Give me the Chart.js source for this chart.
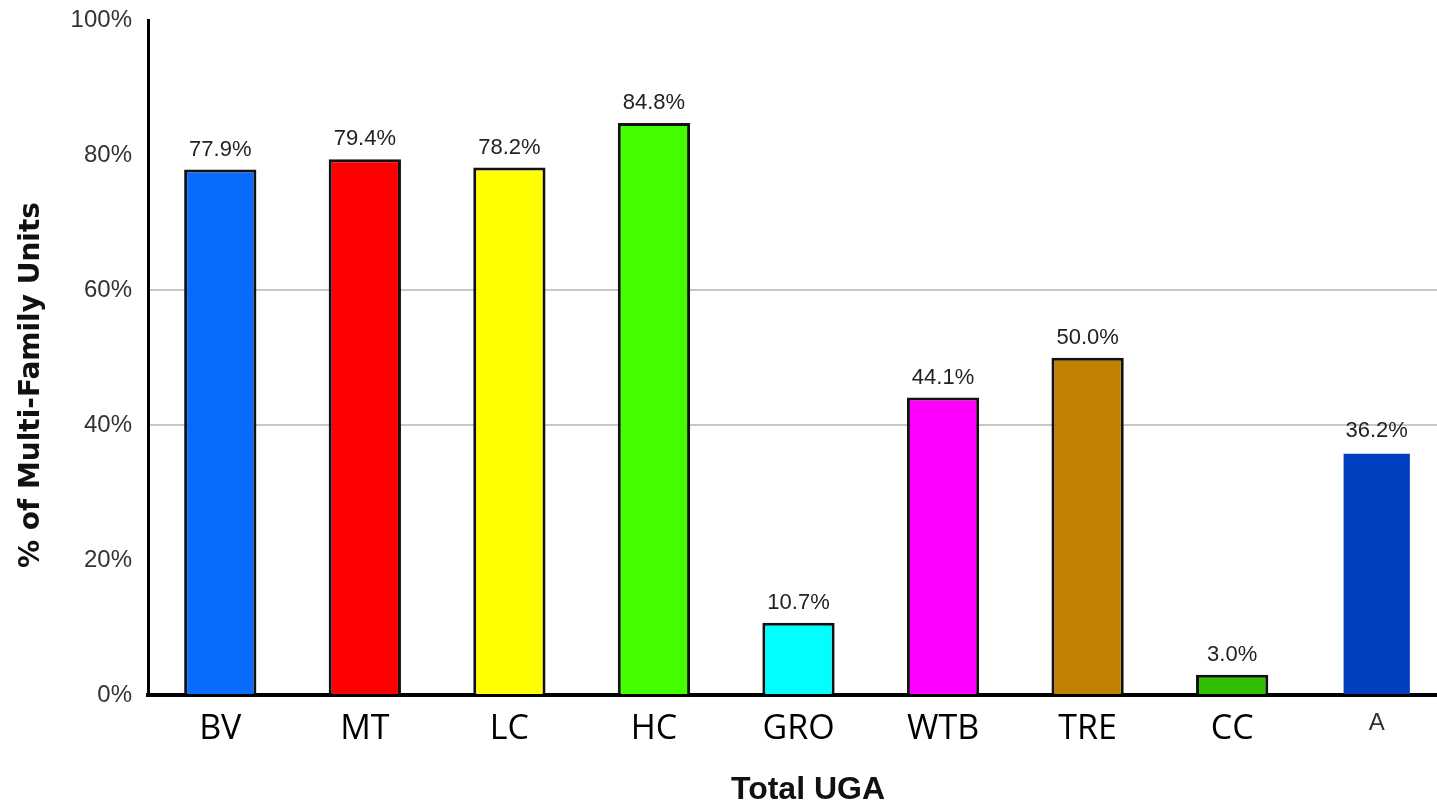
<!DOCTYPE html>
<html>
<head>
<meta charset="utf-8">
<script src="https://cdn.jsdelivr.net/npm/chart.js@4"></script>
<style>
  html, body { margin: 0; padding: 0; background: #fff; overflow: hidden; }
  #wrap { position: relative; width: 1437px; height: 809px; overflow: hidden; }
  #box { position: absolute; left: 0; top: -10px; width: 1452px; height: 819px; }
</style>
</head>
<body>
<div id="wrap"><div id="box"><canvas id="c"></canvas></div></div>
<script>
// Share of multi-family housing units by urban growth area
const categories = ['BV', 'MT', 'LC', 'HC', 'GRO', 'WTB', 'TRE', 'CC', 'A'];
const percentValues = [77.9, 79.4, 78.2, 84.8, 10.7, 44.1, 50.0, 3.0, 36.2];
const barColors = ['#0a6cff', '#ff0000', '#ffff00', '#44ff00', '#00ffff', '#ff00ff', '#c08000', '#30c000', '#0040c0'];
const barBorders = ['#111', '#111', '#111', '#111', '#111', '#111', '#111', '#111', 'rgba(0,0,0,0)'];
const yTicks = [0, 20, 40, 60, 80, 100];
const gridShown = [40, 60];
const yTitle = '% of Multi-Family Units';
const xTitle = 'Total UGA';

// value labels above each bar and the two axis titles
const labelPlugin = {
  id: 'labels',
  afterDatasetsDraw(chart) {
    const ctx = chart.ctx;
    const meta = chart.getDatasetMeta(0);
    ctx.save();
    ctx.font = '22px "Liberation Sans"';
    ctx.fillStyle = '#222';
    ctx.textAlign = 'center';
    ctx.textBaseline = 'middle';
    meta.data.forEach((bar, i) => {
      ctx.fillText(percentValues[i].toFixed(1) + '%', bar.x, bar.y - 20);
    });
    ctx.restore();
  },
  afterDraw(chart) {
    const ctx = chart.ctx;
    const area = chart.chartArea;
    ctx.save();
    ctx.fillStyle = '#111';
    ctx.textAlign = 'center';
    ctx.textBaseline = 'middle';
    ctx.font = 'bold 28px "DejaVu Sans"';
    ctx.translate(32, area.bottom - 310);
    ctx.rotate(-Math.PI / 2);
    ctx.fillText(yTitle, 0, 0);
    ctx.restore();
    ctx.save();
    ctx.fillStyle = '#111';
    ctx.textAlign = 'center';
    ctx.textBaseline = 'middle';
    ctx.font = 'bold 32px "Liberation Sans"';
    ctx.fillText(xTitle, 808, area.bottom + 95);
    ctx.restore();
  }
};

new Chart(document.getElementById('c'), {
  type: 'bar',
  data: {
    labels: categories,
    datasets: [{
      data: percentValues,
      backgroundColor: barColors,
      borderColor: barBorders,
      borderWidth: 3,
      barPercentage: 0.5,
      categoryPercentage: 1.0
    }]
  },
  options: {
    responsive: true,
    maintainAspectRatio: false,
    animation: false,
    layout: { padding: { top: 11, right: 3, left: 0, bottom: 0 } },
    plugins: { legend: { display: false }, tooltip: { enabled: false } },
    scales: {
      x: {
        grid: { display: false, drawTicks: false },
        border: { display: true, color: '#000', width: 4 },
        ticks: {
          padding: 14,
          color: (c) => c.index === 8 ? '#333' : '#000',
          font: (c) => c.index === 8
            ? { family: 'Liberation Sans', size: 24 }
            : { family: 'Open Sans', size: 34 }
        },
        afterFit(scale) { scale.height = 114; }
      },
      y: {
        min: 0,
        max: 100,
        afterBuildTicks(scale) { scale.ticks = yTicks.map(v => ({ value: v })); },
        grid: {
          drawTicks: false,
          lineWidth: 2,
          color: (c) => gridShown.includes(c.tick && c.tick.value) ? '#c8c8c8' : 'rgba(0,0,0,0)'
        },
        border: { display: true, color: '#000', width: 3 },
        ticks: {
          padding: 16,
          color: '#333',
          font: { family: 'Liberation Sans', size: 24 },
          callback: (v) => v + '%'
        },
        afterFit(scale) { scale.width = 148; }
      }
    }
  },
  plugins: [labelPlugin]
});
</script>
</body>
</html>
